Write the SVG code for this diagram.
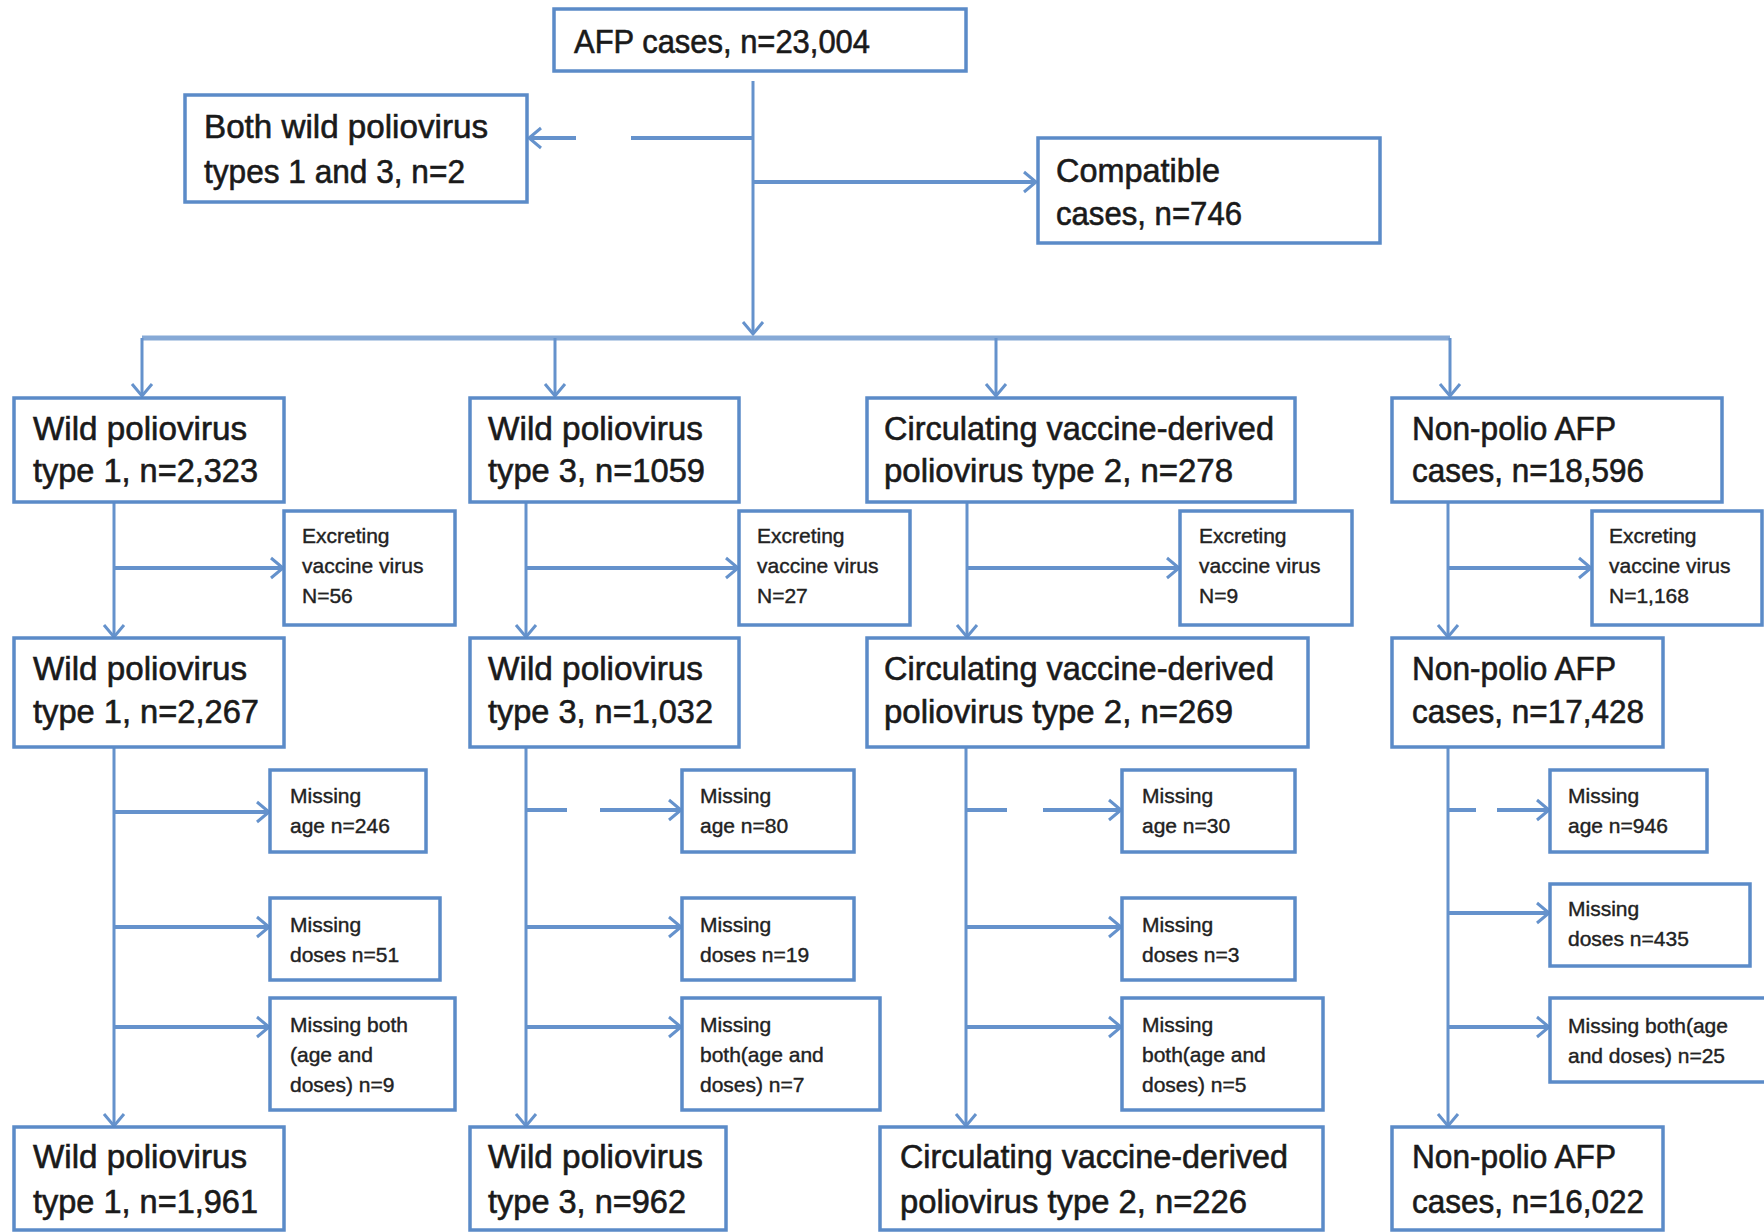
<svg xmlns="http://www.w3.org/2000/svg" width="1764" height="1232" viewBox="0 0 1764 1232">
<style>
.box{fill:#fff;stroke:#5b8bc8;stroke-width:3.5}
.big{font-family:"Liberation Sans",Arial,sans-serif;font-size:33px;fill:#1a1a1a;stroke:#1a1a1a;stroke-width:0.6}
.sm{font-family:"Liberation Sans",Arial,sans-serif;font-size:21px;fill:#222;stroke:#222;stroke-width:0.4}
.ln{fill:none;stroke:#6592cc;stroke-width:3}
.br{fill:none;stroke:#6592cc;stroke-width:4}
.bar{fill:none;stroke:#86a9d6;stroke-width:5}
</style>
<defs>
<marker id="ah" markerUnits="userSpaceOnUse" markerWidth="18" markerHeight="24" refX="15" refY="12" orient="auto">
<path d="M3,2 L15,12 L3,22" fill="none" stroke="#6592cc" stroke-width="3" stroke-dasharray="none"/>
</marker>
</defs>
<rect width="1764" height="1232" fill="#fff"/>
<g id="connectors">
<path class="ln" d="M753,81 V334" marker-end="url(#ah)"/>
<path class="br" d="M753,138 H529" stroke-dasharray="122 55 60" marker-end="url(#ah)"/>
<path class="br" d="M753,182 H1036" marker-end="url(#ah)"/>
<path class="bar" d="M142,338 H1450"/>
<path class="ln" d="M142,338 V396" marker-end="url(#ah)"/>
<path class="ln" d="M555,338 V396" marker-end="url(#ah)"/>
<path class="ln" d="M996,338 V396" marker-end="url(#ah)"/>
<path class="ln" d="M1450,338 V396" marker-end="url(#ah)"/>
<path class="ln" d="M114,502 V637" marker-end="url(#ah)"/>
<path class="ln" d="M526,502 V637" marker-end="url(#ah)"/>
<path class="ln" d="M967,502 V637" marker-end="url(#ah)"/>
<path class="ln" d="M1448,502 V637" marker-end="url(#ah)"/>
<path class="br" d="M114,568 H283" marker-end="url(#ah)"/>
<path class="br" d="M526,568 H738" marker-end="url(#ah)"/>
<path class="br" d="M967,568 H1179" marker-end="url(#ah)"/>
<path class="br" d="M1448,568 H1591" marker-end="url(#ah)"/>
<path class="ln" d="M114,748 V1126" marker-end="url(#ah)"/>
<path class="ln" d="M526,748 V1126" marker-end="url(#ah)"/>
<path class="ln" d="M966,748 V1126" marker-end="url(#ah)"/>
<path class="ln" d="M1448,748 V1126" marker-end="url(#ah)"/>
<path class="br" d="M114,812 H269" marker-end="url(#ah)"/>
<path class="br" d="M114,927 H269" marker-end="url(#ah)"/>
<path class="br" d="M114,1027 H269" marker-end="url(#ah)"/>
<path class="br" d="M526,810 H681" stroke-dasharray="41 33 200" marker-end="url(#ah)"/>
<path class="br" d="M526,927 H681" marker-end="url(#ah)"/>
<path class="br" d="M526,1027 H681" marker-end="url(#ah)"/>
<path class="br" d="M966,810 H1121" stroke-dasharray="41 36 200" marker-end="url(#ah)"/>
<path class="br" d="M966,927 H1121" marker-end="url(#ah)"/>
<path class="br" d="M966,1027 H1121" marker-end="url(#ah)"/>
<path class="br" d="M1448,810 H1549" stroke-dasharray="28 21 200" marker-end="url(#ah)"/>
<path class="br" d="M1448,913 H1549" marker-end="url(#ah)"/>
<path class="br" d="M1448,1027 H1549" marker-end="url(#ah)"/>
</g>
<g id="afp"><rect class="box" x="554" y="9" width="412" height="62"/><text class="big" x="574" y="53" textLength="296" lengthAdjust="spacingAndGlyphs">AFP cases, n=23,004</text></g>
<g id="both-wild"><rect class="box" x="185" y="95" width="342" height="107"/><text class="big" x="204" y="138" textLength="284" lengthAdjust="spacingAndGlyphs">Both wild poliovirus</text><text class="big" x="204" y="183" textLength="261" lengthAdjust="spacingAndGlyphs">types 1 and 3, n=2</text></g>
<g id="compatible"><rect class="box" x="1038" y="138" width="342" height="105"/><text class="big" x="1056" y="182" textLength="164" lengthAdjust="spacingAndGlyphs">Compatible</text><text class="big" x="1056" y="225" textLength="186" lengthAdjust="spacingAndGlyphs">cases, n=746</text></g>

<g id="wpv1-a"><rect class="box" x="14" y="398" width="270" height="104"/><text class="big" x="33" y="440" textLength="214" lengthAdjust="spacingAndGlyphs">Wild poliovirus</text><text class="big" x="33" y="482" textLength="225" lengthAdjust="spacingAndGlyphs">type 1, n=2,323</text></g>
<g id="wpv3-a"><rect class="box" x="470" y="398" width="269" height="104"/><text class="big" x="488" y="440" textLength="215" lengthAdjust="spacingAndGlyphs">Wild poliovirus</text><text class="big" x="488" y="482" textLength="217" lengthAdjust="spacingAndGlyphs">type 3, n=1059</text></g>
<g id="cvdpv2-a"><rect class="box" x="867" y="398" width="428" height="104"/><text class="big" x="884" y="440" textLength="390" lengthAdjust="spacingAndGlyphs">Circulating vaccine-derived</text><text class="big" x="884" y="482" textLength="349" lengthAdjust="spacingAndGlyphs">poliovirus type 2, n=278</text></g>
<g id="npafp-a"><rect class="box" x="1392" y="398" width="330" height="104"/><text class="big" x="1412" y="440" textLength="204" lengthAdjust="spacingAndGlyphs">Non-polio AFP</text><text class="big" x="1412" y="482" textLength="232" lengthAdjust="spacingAndGlyphs">cases, n=18,596</text></g>

<g id="exc-wpv1"><rect class="box" x="284" y="511" width="171" height="114"/><text class="sm" x="302" y="543">Excreting</text><text class="sm" x="302" y="573">vaccine virus</text><text class="sm" x="302" y="603">N=56</text></g>
<g id="exc-wpv3"><rect class="box" x="739" y="511" width="171" height="114"/><text class="sm" x="757" y="543">Excreting</text><text class="sm" x="757" y="573">vaccine virus</text><text class="sm" x="757" y="603">N=27</text></g>
<g id="exc-cvdpv2"><rect class="box" x="1180" y="511" width="172" height="114"/><text class="sm" x="1199" y="543">Excreting</text><text class="sm" x="1199" y="573">vaccine virus</text><text class="sm" x="1199" y="603">N=9</text></g>
<g id="exc-npafp"><rect class="box" x="1592" y="511" width="170" height="114"/><text class="sm" x="1609" y="543">Excreting</text><text class="sm" x="1609" y="573">vaccine virus</text><text class="sm" x="1609" y="603">N=1,168</text></g>

<g id="wpv1-b"><rect class="box" x="14" y="638" width="270" height="109"/><text class="big" x="33" y="680" textLength="214" lengthAdjust="spacingAndGlyphs">Wild poliovirus</text><text class="big" x="33" y="723" textLength="226" lengthAdjust="spacingAndGlyphs">type 1, n=2,267</text></g>
<g id="wpv3-b"><rect class="box" x="470" y="638" width="269" height="109"/><text class="big" x="488" y="680" textLength="215" lengthAdjust="spacingAndGlyphs">Wild poliovirus</text><text class="big" x="488" y="723" textLength="225" lengthAdjust="spacingAndGlyphs">type 3, n=1,032</text></g>
<g id="cvdpv2-b"><rect class="box" x="867" y="638" width="441" height="109"/><text class="big" x="884" y="680" textLength="390" lengthAdjust="spacingAndGlyphs">Circulating vaccine-derived</text><text class="big" x="884" y="723" textLength="349" lengthAdjust="spacingAndGlyphs">poliovirus type 2, n=269</text></g>
<g id="npafp-b"><rect class="box" x="1392" y="638" width="271" height="109"/><text class="big" x="1412" y="680" textLength="204" lengthAdjust="spacingAndGlyphs">Non-polio AFP</text><text class="big" x="1412" y="723" textLength="232" lengthAdjust="spacingAndGlyphs">cases, n=17,428</text></g>

<g id="age-wpv1"><rect class="box" x="270" y="770" width="156" height="82"/><text class="sm" x="290" y="803">Missing</text><text class="sm" x="290" y="833">age n=246</text></g>
<g id="age-wpv3"><rect class="box" x="682" y="770" width="172" height="82"/><text class="sm" x="700" y="803">Missing</text><text class="sm" x="700" y="833">age n=80</text></g>
<g id="age-cvdpv2"><rect class="box" x="1122" y="770" width="173" height="82"/><text class="sm" x="1142" y="803">Missing</text><text class="sm" x="1142" y="833">age n=30</text></g>
<g id="age-npafp"><rect class="box" x="1550" y="770" width="157" height="82"/><text class="sm" x="1568" y="803">Missing</text><text class="sm" x="1568" y="833">age n=946</text></g>

<g id="doses-wpv1"><rect class="box" x="270" y="898" width="170" height="82"/><text class="sm" x="290" y="932">Missing</text><text class="sm" x="290" y="962">doses n=51</text></g>
<g id="doses-wpv3"><rect class="box" x="682" y="898" width="172" height="82"/><text class="sm" x="700" y="932">Missing</text><text class="sm" x="700" y="962">doses n=19</text></g>
<g id="doses-cvdpv2"><rect class="box" x="1122" y="898" width="173" height="82"/><text class="sm" x="1142" y="932">Missing</text><text class="sm" x="1142" y="962">doses n=3</text></g>
<g id="doses-npafp"><rect class="box" x="1550" y="884" width="200" height="82"/><text class="sm" x="1568" y="916">Missing</text><text class="sm" x="1568" y="946">doses n=435</text></g>

<g id="both-wpv1"><rect class="box" x="270" y="998" width="185" height="112"/><text class="sm" x="290" y="1032">Missing both</text><text class="sm" x="290" y="1062">(age and</text><text class="sm" x="290" y="1092">doses) n=9</text></g>
<g id="both-wpv3"><rect class="box" x="682" y="998" width="198" height="112"/><text class="sm" x="700" y="1032">Missing</text><text class="sm" x="700" y="1062">both(age and</text><text class="sm" x="700" y="1092">doses) n=7</text></g>
<g id="both-cvdpv2"><rect class="box" x="1122" y="998" width="201" height="112"/><text class="sm" x="1142" y="1032">Missing</text><text class="sm" x="1142" y="1062">both(age and</text><text class="sm" x="1142" y="1092">doses) n=5</text></g>
<g id="both-npafp"><rect class="box" x="1550" y="998" width="216" height="84"/><text class="sm" x="1568" y="1033">Missing both(age</text><text class="sm" x="1568" y="1063">and doses)  n=25</text></g>

<g id="wpv1-c"><rect class="box" x="14" y="1127" width="270" height="103"/><text class="big" x="33" y="1168" textLength="214" lengthAdjust="spacingAndGlyphs">Wild poliovirus</text><text class="big" x="33" y="1213" textLength="225" lengthAdjust="spacingAndGlyphs">type 1, n=1,961</text></g>
<g id="wpv3-c"><rect class="box" x="470" y="1127" width="256" height="103"/><text class="big" x="488" y="1168" textLength="215" lengthAdjust="spacingAndGlyphs">Wild poliovirus</text><text class="big" x="488" y="1213" textLength="198" lengthAdjust="spacingAndGlyphs">type 3, n=962</text></g>
<g id="cvdpv2-c"><rect class="box" x="880" y="1127" width="443" height="103"/><text class="big" x="900" y="1168" textLength="388" lengthAdjust="spacingAndGlyphs">Circulating vaccine-derived</text><text class="big" x="900" y="1213" textLength="347" lengthAdjust="spacingAndGlyphs">poliovirus type 2, n=226</text></g>
<g id="npafp-c"><rect class="box" x="1392" y="1127" width="271" height="103"/><text class="big" x="1412" y="1168" textLength="204" lengthAdjust="spacingAndGlyphs">Non-polio AFP</text><text class="big" x="1412" y="1213" textLength="232" lengthAdjust="spacingAndGlyphs">cases, n=16,022</text></g>
</svg>
